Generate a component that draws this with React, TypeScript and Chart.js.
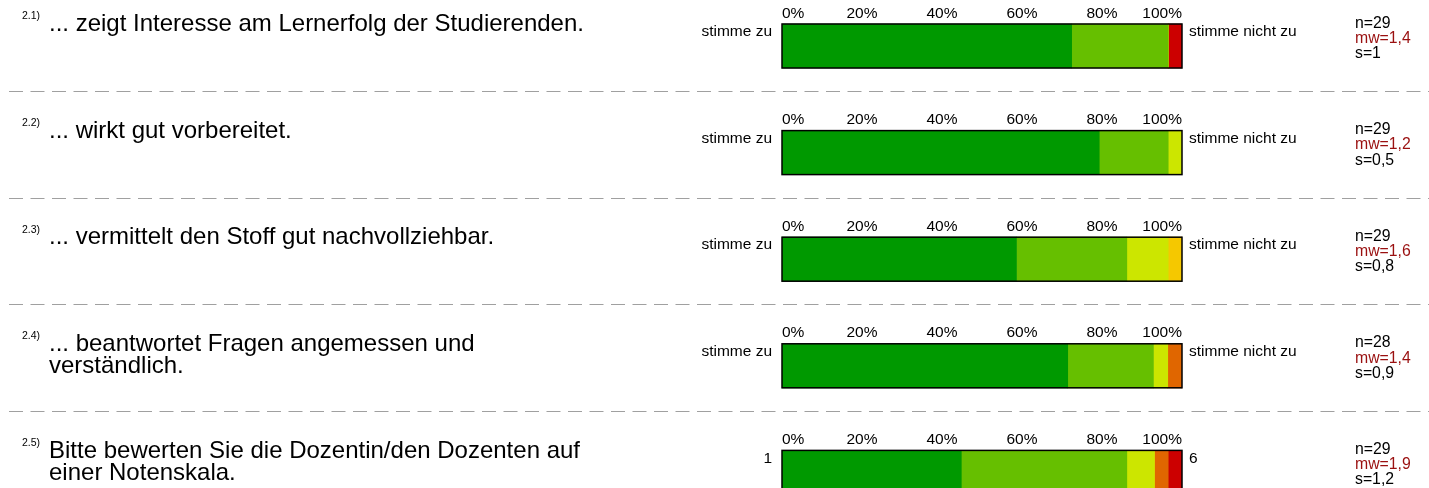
import React, { useEffect, useRef } from 'react';
import { Chart, registerables } from 'chart.js';

Chart.register(...registerables);

// ---------- data ----------
const rowIds = ['2.1)', '2.2)', '2.3)', '2.4)', '2.5)'];
const questions = [
  '... zeigt Interesse am Lernerfolg der Studierenden.',
  '... wirkt gut vorbereitet.',
  '... vermittelt den Stoff gut nachvollziehbar.',
  '... beantwortet Fragen angemessen und\nverständlich.',
  'Bitte bewerten Sie die Dozentin/den Dozenten auf\neiner Notenskala.',
];
const leftLabels = ['stimme zu', 'stimme zu', 'stimme zu', 'stimme zu', '1'];
const rightLabels = ['stimme nicht zu', 'stimme nicht zu', 'stimme nicht zu', 'stimme nicht zu', '6'];
const nValues = [29, 29, 29, 28, 29];
const mwValues = ['1,4', '1,2', '1,6', '1,4', '1,9'];
const sValues = ['1', '0,5', '0,8', '0,9', '1,2'];

// answer counts per category (1 = best ... 6 = worst), one value per row
const cat1 = [21, 23, 17, 20, 13];
const cat2 = [7, 5, 8, 6, 12];
const cat3 = [0, 1, 3, 1, 2];
const cat4 = [0, 0, 1, 0, 0];
const cat5 = [0, 0, 0, 1, 1];
const cat6 = [1, 0, 0, 0, 1];
const catColors = ['#009900', '#66bf00', '#cce600', '#f5c800', '#e06600', '#cc0000'];

const tickValues = [0, 20, 40, 60, 80, 100];
const tickLabels = ['0%', '20%', '40%', '60%', '80%', '100%'];

// ---------- layout ----------
const W = 1429;
const H = 488;
const ROW = 106.6;
const FONT = '"Liberation Sans", Arial, Helvetica, sans-serif';
const CANVAS_TOP = -10;
const CANVAS_H = 540;

function T(props: {
  x: number;
  base: number;
  size: number;
  color?: string;
  align?: 'left' | 'right';
  lh?: number;
  children: React.ReactNode;
}) {
  const { x, base, size, color = '#000', align = 'left', lh, children } = props;
  const L = lh ?? Math.round(size * 1.2);
  const top = base - L / 2 - 0.3465 * size;
  const style: React.CSSProperties = {
    position: 'absolute',
    top,
    fontSize: size,
    lineHeight: L + 'px',
    whiteSpace: 'pre',
    color,
    fontFamily: FONT,
    textAlign: align,
  };
  if (align === 'left') style.left = x;
  else style.right = W - x;
  return <div style={style}>{children}</div>;
}

const framePlugin = {
  id: 'frames',
  afterDatasetsDraw(chart: any) {
    const { ctx, scales } = chart;
    const xs = scales.x;
    const ys = scales.y;
    const x0 = xs.getPixelForValue(0);
    const x1 = xs.getPixelForValue(100);
    ctx.save();
    for (let i = 0; i < rowIds.length; i++) {
      const yc = ys.getPixelForValue(i);
      const top = yc - 22;
      // frame
      ctx.strokeStyle = '#000';
      ctx.lineWidth = 1.5;
      ctx.setLineDash([]);
      ctx.strokeRect(x0, top, x1 - x0, 44);
      // tick labels
      ctx.fillStyle = '#000';
      ctx.font = '15.5px ' + FONT;
      ctx.textBaseline = 'alphabetic';
      tickValues.forEach((v, j) => {
        const px = xs.getPixelForValue(v);
        ctx.textAlign = v === tickValues[0] ? 'left' : v === tickValues[tickValues.length - 1] ? 'right' : 'center';
        ctx.fillText(tickLabels[j], px, top - 6.5);
      });
      // dashed separator
      if (i < rowIds.length - 1) {
        const yy = Math.round(yc + 45) + 0.5;
        ctx.strokeStyle = '#a0a0a0';
        ctx.lineWidth = 1.2;
        ctx.setLineDash([14, 7.5]);
        ctx.beginPath();
        ctx.moveTo(9, yy);
        ctx.lineTo(W, yy);
        ctx.stroke();
      }
    }
    ctx.restore();
  },
};

export default function App() {
  const ref = useRef<HTMLCanvasElement>(null);

  useEffect(() => {
    if (!ref.current) return;
    const cats = [cat1, cat2, cat3, cat4, cat5, cat6];
    const chart = new Chart(ref.current, {
      type: 'bar',
      data: {
        labels: rowIds,
        datasets: cats.map((c, k) => ({
          label: String(k + 1),
          data: c.map((v, i) => (v / nValues[i]) * 100),
          backgroundColor: catColors[k],
          borderWidth: 0,
          barThickness: 44,
          stack: 's',
        })),
      },
      options: {
        indexAxis: 'y',
        responsive: false,
        animation: false,
        events: [],
        layout: { padding: { left: 782, right: W - 1182, top: 2.7, bottom: 4.3 } },
        plugins: { legend: { display: false }, tooltip: { enabled: false } },
        scales: {
          x: { stacked: true, min: 0, max: 100, display: false },
          y: { stacked: true, display: false },
        },
      },
      plugins: [framePlugin],
    });
    return () => chart.destroy();
  }, []);

  return (
    <div style={{ position: 'absolute', left: 0, top: 0, width: W, height: H, overflow: 'hidden', background: '#fff' }}>
      <canvas
        ref={ref}
        width={W}
        height={CANVAS_H}
        style={{ position: 'absolute', left: 0, top: CANVAS_TOP, width: W, height: CANVAS_H }}
      />
      {rowIds.map((id, i) => {
        const o = i * ROW;
        return (
          <React.Fragment key={id}>
            <T x={22} base={19.5 + o} size={10.5}>{id}</T>
            <T x={49} base={31.5 + o} size={24} lh={22}>{questions[i]}</T>
            <T x={772} base={36 + o} size={15.5} align="right">{leftLabels[i]}</T>
            <T x={1189} base={36 + o} size={15.5}>{rightLabels[i]}</T>
            <T x={1355} base={27.5 + o} size={15.8} lh={15}>{'n=' + nValues[i]}</T>
            <T x={1355} base={42.8 + o} size={15.8} lh={15} color="#9a1010">{'mw=' + mwValues[i]}</T>
            <T x={1355} base={58 + o} size={15.8} lh={15}>{'s=' + sValues[i]}</T>
          </React.Fragment>
        );
      })}
    </div>
  );
}
